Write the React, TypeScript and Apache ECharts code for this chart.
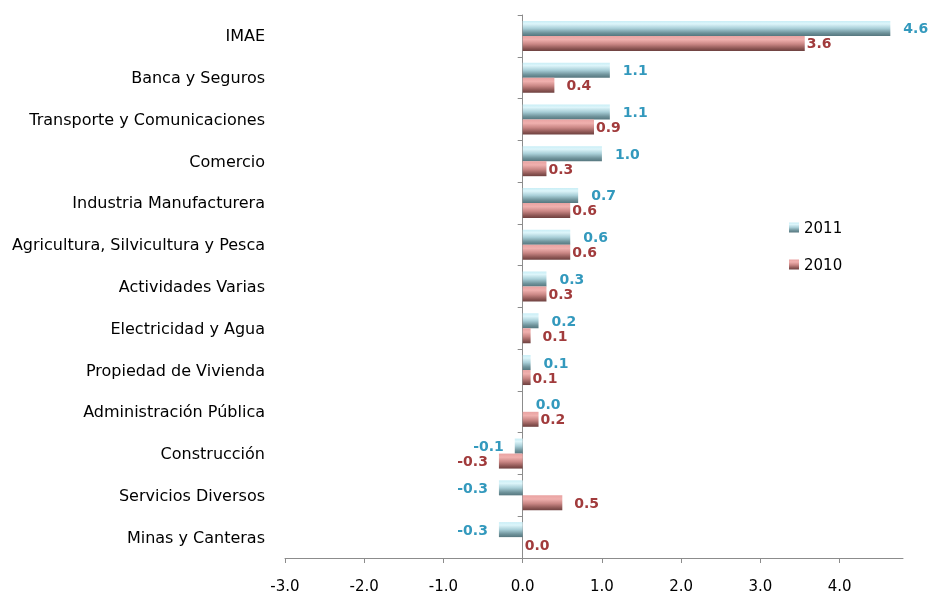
import React, { useEffect, useRef } from "react";
import * as echarts from "echarts";

const categories = [
  "IMAE",
  "Banca y Seguros",
  "Transporte y Comunicaciones",
  "Comercio",
  "Industria Manufacturera",
  "Agricultura, Silvicultura y Pesca",
  "Actividades Varias",
  "Electricidad y Agua",
  "Propiedad de Vivienda",
  "Administración Pública",
  "Construcción",
  "Servicios Diversos",
  "Minas y Canteras",
];

const values2011 = [4.64, 1.1, 1.1, 1.0, 0.7, 0.6, 0.3, 0.2, 0.1, 0.0, -0.1, -0.3, -0.3];
const values2010 = [3.56, 0.4, 0.9, 0.3, 0.6, 0.6, 0.3, 0.1, 0.1, 0.2, -0.3, 0.5, 0.0];

const xTicks = [-3, -2, -1, 0, 1, 2, 3, 4];

// labels of 2010 that sit further from their bar
const far2010 = ["Banca y Seguros", "Electricidad y Agua", "Servicios Diversos"];

const FONT = "'DejaVu Sans', sans-serif";

export default function App() {
  const ref = useRef<HTMLDivElement>(null);

  useEffect(() => {
    if (!ref.current) return;
    const chart = echarts.init(ref.current, undefined, { renderer: "svg" });

    const grad2011 = new echarts.graphic.LinearGradient(0, 0, 0, 1, [
      { offset: 0, color: "#c9eef6" },
      { offset: 0.2, color: "#ddf5fa" },
      { offset: 0.5, color: "#a9cfd8" },
      { offset: 0.8, color: "#6f939b" },
      { offset: 1, color: "#56777f" },
    ]);
    const grad2010 = new echarts.graphic.LinearGradient(0, 0, 0, 1, [
      { offset: 0, color: "#e9a3a2" },
      { offset: 0.25, color: "#f0b0ae" },
      { offset: 0.55, color: "#c98684" },
      { offset: 0.85, color: "#8a5452" },
      { offset: 1, color: "#6e4140" },
    ]);

    const makeData = (vals: number[], color: string, farList: string[], near: number) =>
      vals.map((v, i) => ({
        value: v,
        label: {
          position: v < 0 ? "left" : "right",
          distance: v < 0 ? 11 : farList.includes(categories[i]) ? 12 : near,
          color,
        },
      }));

    chart.setOption({
      animation: false,
      textStyle: { fontFamily: FONT },
      grid: { left: 285, right: 26, top: 15, bottom: 41, containLabel: false, outerBoundsMode: "none" },
      legend: {
        orient: "vertical",
        left: 784,
        top: 215,
        itemWidth: 10,
        itemHeight: 10,
        itemGap: 22,
        icon: "rect",
        textStyle: { fontSize: 15, color: "#000", fontFamily: FONT },
        data: ["2011", "2010"],
      },
      xAxis: {
        type: "value",
        min: -3,
        max: 4.8,
        interval: 1,
        splitLine: { show: false },
        axisLine: { show: true, lineStyle: { color: "#8c8c8c" } },
        axisTick: { show: true, length: 5, lineStyle: { color: "#8c8c8c" }, customValues: xTicks },
        axisLabel: {
          margin: 20,
          fontSize: 15,
          color: "#000",
          fontFamily: FONT,
          customValues: xTicks,
          formatter: (v: number) => v.toFixed(1),
        },
      },
      yAxis: {
        type: "category",
        inverse: true,
        data: categories,
        axisLine: { show: true, onZero: true, lineStyle: { color: "#8c8c8c" } },
        axisTick: { show: true, length: 5, lineStyle: { color: "#8c8c8c" } },
        axisLabel: { margin: 20, fontSize: 16, color: "#000", fontFamily: FONT },
      },
      series: [
        {
          name: "2011",
          type: "bar",
          barWidth: 15,
          barGap: "0%",
          itemStyle: { color: grad2011 },
          label: {
            show: true,
            fontSize: 14,
            fontWeight: "bold",
            fontFamily: FONT,
            formatter: (p: any) => Number(p.value).toFixed(1),
          },
          data: makeData(values2011, "#3399bd", [], 13),
        },
        {
          name: "2010",
          type: "bar",
          barWidth: 15,
          barGap: "0%",
          itemStyle: { color: grad2010 },
          label: {
            show: true,
            fontSize: 14,
            fontWeight: "bold",
            fontFamily: FONT,
            formatter: (p: any) => Number(p.value).toFixed(1),
          },
          data: makeData(values2010, "#a13b3c", far2010, 2),
        },
      ],
    });

    return () => chart.dispose();
  }, []);

  return (
    <div
      ref={ref}
      style={{ position: "fixed", left: 0, top: 0, width: 929, height: 599 }}
    />
  );
}
